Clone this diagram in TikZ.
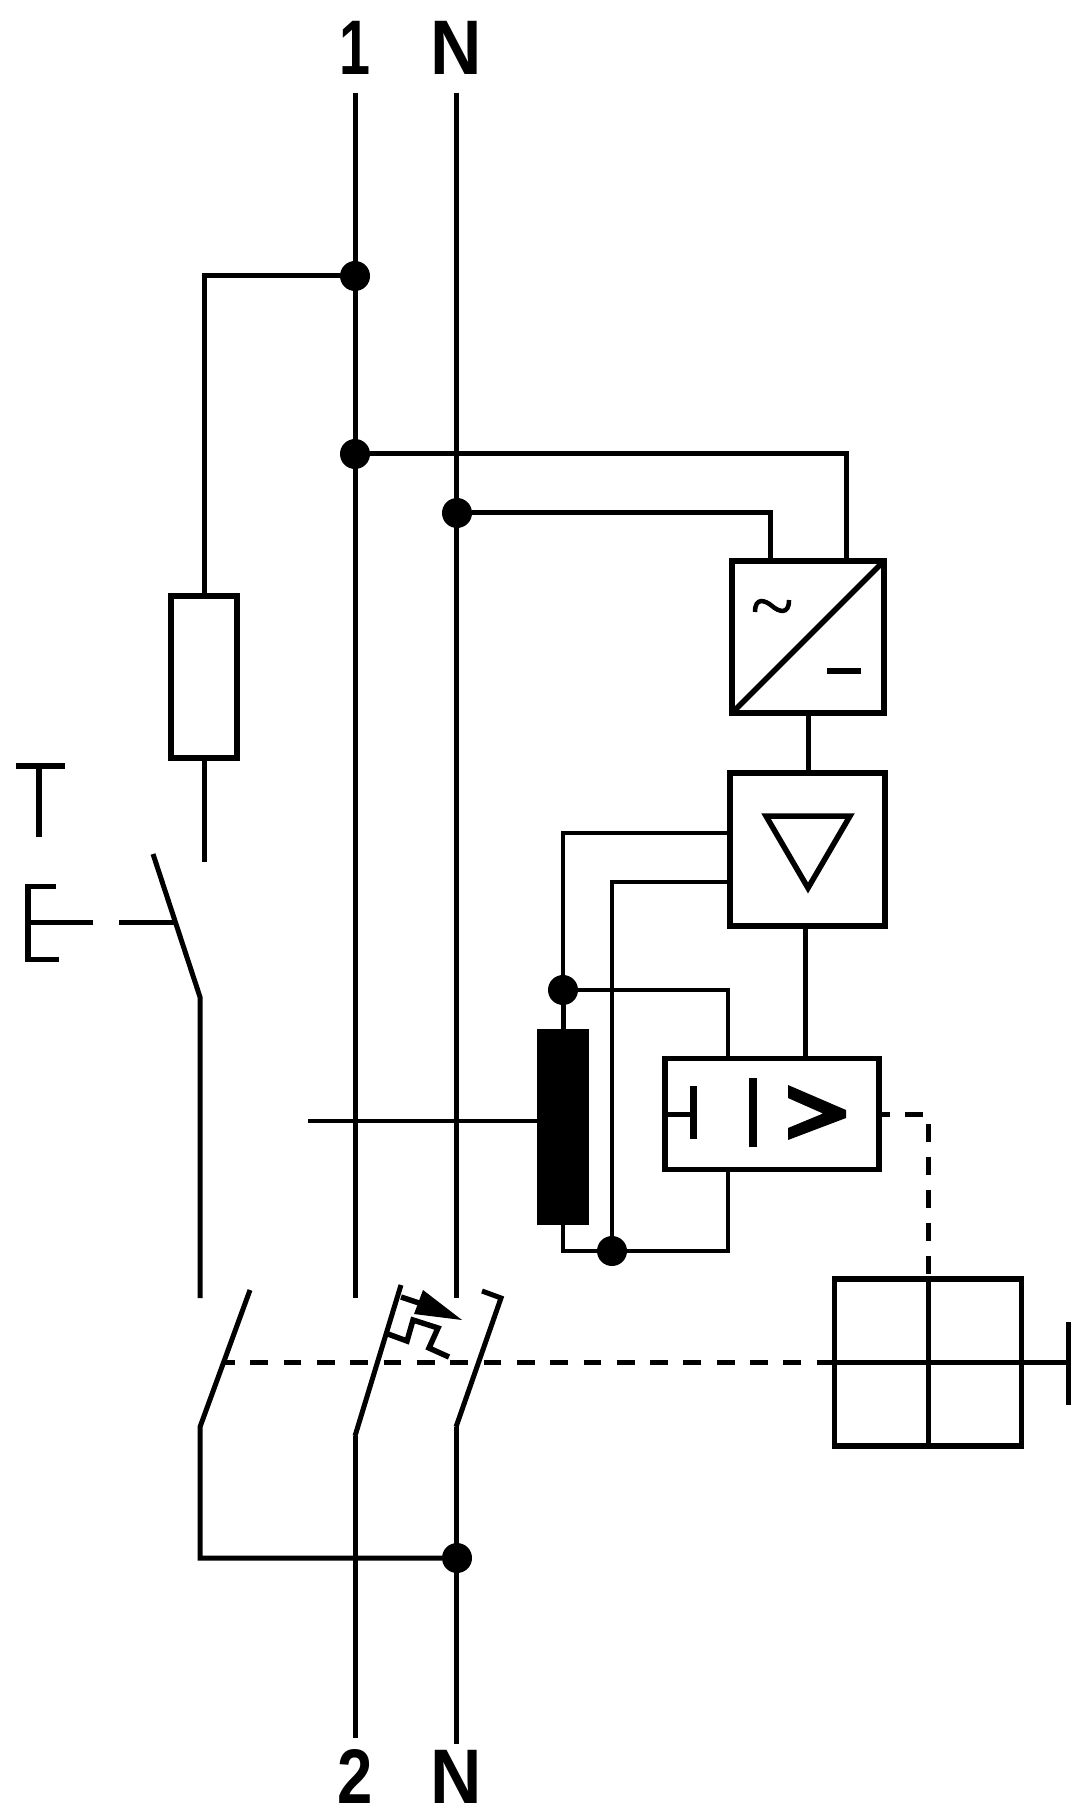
\documentclass[tikz,border=0pt]{standalone}
\usepackage{fontspec}
\setmainfont{Liberation Sans}
\tikzset{
	wire/.style={line width=0.5mm, line cap=butt},
	thinwire/.style={line width=0.45mm},
	opbox/.style={draw, line width=0.55mm, inner sep=0pt, outer sep=0pt},
	dotnode/.style={circle, fill=black, inner sep=0pt, outer sep=0pt, minimum size=0.3cm},
	linkdash/.style={line width=0.55mm, dash pattern=on 0.177cm off 0.156cm, dash phase=0.05cm},
	outdash/.style={line width=0.5mm, dash pattern=on 0.18cm off 0.15cm, dash phase=0.07cm},
	termlabel/.style={font=\fontsize{22}{22}\selectfont\bfseries, inner sep=0pt, anchor=base, transform shape}
}
\begin{document}
\begin{tikzpicture}[x=0.01cm, y=-0.01cm, line join=miter]
	%%%%% START %%%%%
	\useasboundingbox (0, 0) rectangle (1090, 1816);
	
	% terminals
	\node[termlabel, xscale=0.72] (termA) at (355, 75) {1};
	\node[termlabel, xscale=0.92] (termB) at (456, 75) {N};
	\node[termlabel, xscale=0.82] (termC) at (355, 1803) {2};
	\node[termlabel, xscale=0.92] (termD) at (456, 1803) {N};
	
	\coordinate (lineAtop) at (355, 93);
	\coordinate (lineAopen) at (355, 1298);
	\coordinate (lineAlow) at (355, 1436);
	\coordinate (lineAend) at (355, 1738);
	\coordinate (lineBtop) at (456, 93);
	\coordinate (lineBopen) at (456, 1298);
	\coordinate (lineBlow) at (456, 1427);
	\coordinate (lineBend) at (456, 1744);
	
	\node[dotnode] (dotA) at (355, 276) {};
	\node[dotnode] (dotB) at (355, 454) {};
	\node[dotnode] (dotC) at (457, 513) {};
	\node[dotnode] (dotD) at (563, 990) {};
	\node[dotnode] (dotE) at (612, 1251) {};
	\node[dotnode] (dotF) at (457, 1558) {};
	
	% boxes
	\node[opbox, minimum width=0.66cm, minimum height=1.62cm] (resistor) at (204, 677) {};
	\node[opbox, minimum width=1.52cm, minimum height=1.52cm] (conv) at (808, 637) {};
	\node[opbox, minimum width=1.55cm, minimum height=1.53cm] (amp) at (807.5, 849.5) {};
	\node[opbox, minimum width=2.14cm, minimum height=1.11cm] (comp) at (772, 1114) {};
	\node[opbox, fill=black, minimum width=0.47cm, minimum height=1.91cm] (core) at (563, 1127) {};
	\node[opbox, minimum width=1.87cm, minimum height=1.67cm] (relay) at (928, 1362.5) {};
	
	\coordinate (convA) at (770, 561);
	\coordinate (convB) at (846, 561);
	\coordinate (ampA) at (729, 833);
	\coordinate (ampB) at (729, 882);
	\coordinate (ampC) at (805, 926);
	\coordinate (compA) at (728, 1058);
	\coordinate (compB) at (805, 1058);
	\coordinate (compC) at (728, 1170);
	\coordinate (senseEnd) at (308, 1121);
	
	% lines 1 and N
	\draw[wire] (lineAtop) -- (lineAopen);
	\draw[wire] (lineBtop) -- (lineBopen);
	\draw[wire] (lineAlow) -- (lineAend);
	\draw[wire] (lineBlow) -- (lineBend);
	
	% test branch
	\coordinate (testEnd) at (204, 862);
	\draw[wire] (dotA) -| (resistor.north);
	\draw[wire] (resistor.south) -- (testEnd);
	\draw[wire] (153, 854) -- (200, 997) -- (200, 1298);
	\draw[wire] (119, 922) -- (175, 922);
	\draw[wire] (93, 922) -- (28, 922);
	\draw[wire] (56, 886) -- (28, 886) -- (28, 959) -- (59, 959);
	\draw[wire] (16, 766) -- (65, 766);
	\draw[wire] (39, 766) -- (39, 837);
	
	% electronics
	\draw[wire] (dotB) -| (convB);
	\draw[wire] (dotC) -| (convA);
	\draw[wire] (conv.south) -- (conv.south |- amp.north);
	\draw[thinwire] (ampA) -| (dotD);
	\draw[thinwire] (ampB) -| (dotE);
	\draw[wire] (ampC) -- (compB);
	\draw[wire] (dotD) -- (core.north);
	\draw[thinwire] (dotD) -| (compA);
	\draw[thinwire] (compC) |- (dotE);
	\draw[thinwire] (dotE) -| (core.south);
	\draw[thinwire] (senseEnd) -- (core.west |- senseEnd);
	
	% converter symbols
	\draw[line width=0.55mm] (conv.south west) -- (conv.north east);
	\draw[line width=0.45mm] (755, 612) .. controls (755, 597) and (765, 600) .. (772, 606) .. controls (779, 612) and (789, 615) .. (789, 600);
	\draw[line width=0.5mm] (827, 671) -- (861, 671);
	\draw[line width=0.55mm] (766, 816) -- (850, 816) -- (808, 888) -- cycle;
	
	% comparator symbols
	\draw[wire] (comp.west) -- (693, 1114);
	\draw[line width=0.7mm] (693, 1086) -- (693, 1139);
	\draw[line width=0.75mm] (753, 1078) -- (753, 1147);
	\fill (788, 1085) -- (846, 1110) -- (846, 1118) -- (788, 1140) -- (788, 1128) -- (823, 1113.5) -- (788, 1098) -- cycle;
	
	% relay
	\draw[outdash] (comp.east) -| (relay.north);
	\draw[wire] (relay.north) -- (relay.south);
	\draw[wire] (relay.west) -- (relay.east);
	\coordinate (relayBar) at (1068, 1362.5);
	\draw[wire] (relay.east) -- (relayBar);
	\draw[wire] (1068, 1322) -- (1068, 1405);
	
	% contacts
	\draw[wire] (250, 1290) -- (200, 1427) -- (200, 1558) -- (dotF);
	\draw[wire] (401, 1285) -- (lineAlow);
	\draw[wire] (482, 1291) -- (501, 1298) -- (lineBlow);
	\coordinate (linkStart) at (222, 1362.5);
	\draw[linkdash] (linkStart) -- (relay.west);
	
	% thermal trip
	\draw[line width=0.55mm] (401, 1297) -- (425, 1305);
	\fill (423, 1290) -- (462, 1320) -- (414, 1314) -- cycle;
	\draw[line width=0.55mm] (388, 1334) -- (407, 1341) -- (413, 1320) -- (438, 1328) -- (429, 1348) -- (449, 1357);
	%%%%% END %%%%%
\end{tikzpicture}
\end{document}
